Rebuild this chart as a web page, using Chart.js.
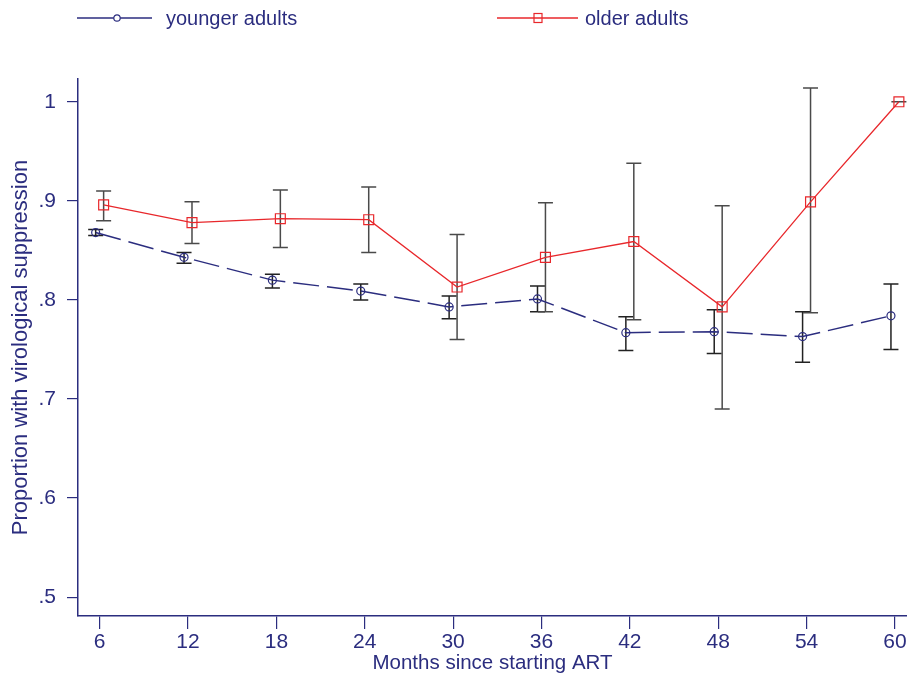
<!DOCTYPE html>
<html><head><meta charset="utf-8">
<script src="https://cdn.jsdelivr.net/npm/chart.js@4.4.1/dist/chart.umd.min.js"></script>
<style>
html,body{margin:0;padding:0;background:#fff;}
#wrap{position:relative;width:907px;height:674px;overflow:hidden;}
canvas{position:absolute;left:0;top:0;}
.leg{position:absolute;top:6px;height:24px;display:flex;align-items:center;font-family:"Liberation Sans",Arial,sans-serif;font-size:20px;color:#2b2d7f;white-space:nowrap;}
.leg svg{margin-right:14px;}
</style></head><body>
<div id="wrap">
<canvas id="c" width="907" height="674"></canvas>
<div class="leg" style="left:77px;"><svg width="75" height="12" viewBox="0 0 75 12"><line x1="0" y1="6" x2="75" y2="6" stroke="#2b2d7f" stroke-width="1.5"/><circle cx="40" cy="6" r="3.2" fill="#fff" stroke="#2b2d7f" stroke-width="1.2"/></svg><span>younger adults</span></div>
<div class="leg" style="left:497px;"><svg width="81" height="14" viewBox="0 0 81 14"><line x1="0" y1="7" x2="81" y2="7" stroke="#e8272b" stroke-width="1.3"/><rect x="37" y="2.5" width="8" height="9" fill="none" stroke="#e8272b" stroke-width="1.2"/></svg><span style="margin-left:-7px">older adults</span></div>
</div>
<script>
const months = [6, 12, 18, 24, 30, 36, 42, 48, 54, 60];
const youngerMean = [0.868, 0.843, 0.820, 0.809, 0.793, 0.801, 0.767, 0.768, 0.763, 0.784];
const youngerLow  = [0.865, 0.837, 0.812, 0.800, 0.781, 0.788, 0.749, 0.746, 0.737, 0.750];
const youngerHigh = [0.871, 0.848, 0.826, 0.816, 0.804, 0.814, 0.783, 0.790, 0.788, 0.816];
const olderMean = [0.896, 0.878, 0.882, 0.881, 0.813, 0.843, 0.859, 0.793, 0.899, 1.000];
const olderLow  = [0.880, 0.857, 0.853, 0.848, 0.760, 0.788, 0.780, 0.690, 0.787, 1.000];
const olderHigh = [0.910, 0.899, 0.911, 0.914, 0.866, 0.898, 0.938, 0.895, 1.014, 1.000];
const yTickValues = [0.5, 0.6, 0.7, 0.8, 0.9, 1];
const yTickLabels = ['.5', '.6', '.7', '.8', '.9', '1'];

const NAVY = '#2b2d7f';
const RED = '#e8272b';
const SHIFT = 0.27;
const FONT = '"Liberation Sans", Arial, sans-serif';

const errorBars = {
  id: 'errorBars',
  beforeDatasetsDraw(chart) {
    const ctx = chart.ctx;
    const xs = chart.scales.x, ys = chart.scales.y;
    chart.data.datasets.forEach(ds => {
      ctx.save();
      ctx.strokeStyle = ds.errColor;
      ctx.lineWidth = 1.5;
      ds.data.forEach((pt, i) => {
        const px = xs.getPixelForValue(pt.x);
        const lo = ys.getPixelForValue(ds.errLow[i]);
        const hi = ys.getPixelForValue(ds.errHigh[i]);
        const w = 7.5;
        ctx.beginPath();
        ctx.moveTo(px, lo); ctx.lineTo(px, hi);
        ctx.moveTo(px - w, lo); ctx.lineTo(px + w, lo);
        ctx.moveTo(px - w, hi); ctx.lineTo(px + w, hi);
        ctx.stroke();
      });
      ctx.restore();
    });
  }
};

new Chart(document.getElementById('c'), {
  type: 'line',
  data: {
    datasets: [
      {
        label: 'younger adults',
        data: months.map((m, i) => ({x: m - SHIFT, y: youngerMean[i]})),
        errLow: youngerLow, errHigh: youngerHigh, errColor: '#222222',
        borderColor: NAVY, borderWidth: 1.5, borderDash: [26, 8],
        pointStyle: 'circle', pointRadius: 4, pointBorderWidth: 1.2,
        pointBorderColor: NAVY, pointBackgroundColor: 'rgba(0,0,0,0)',
        tension: 0, fill: false, clip: false
      },
      {
        label: 'older adults',
        data: months.map((m, i) => ({x: m + SHIFT, y: olderMean[i]})),
        errLow: olderLow, errHigh: olderHigh, errColor: '#4a4a4a',
        borderColor: RED, borderWidth: 1.3,
        pointStyle: 'rect', pointRadius: 7, pointBorderWidth: 1.2,
        pointBorderColor: RED, pointBackgroundColor: 'rgba(0,0,0,0)',
        tension: 0, fill: false, clip: false
      }
    ]
  },
  options: {
    responsive: false,
    animation: false,
    layout: {autoPadding: false, padding: {top: 79, right: 0, left: 0, bottom: 0}},
    plugins: {legend: {display: false}, tooltip: {enabled: false}},
    scales: {
      x: {
        type: 'linear', min: 4.53, max: 60.82,
        afterBuildTicks: s => { s.ticks = months.map(v => ({value: v})); },
        afterFit: s => { s.height = 58; s.paddingLeft = 0; s.paddingRight = 0; },
        ticks: {color: NAVY, font: {family: FONT, size: 21}, maxRotation: 0, autoSkip: false, padding: 1},
        grid: {display: true, drawOnChartArea: false, drawTicks: true, tickLength: 13, color: NAVY, lineWidth: 1.2},
        border: {display: true, color: NAVY, width: 1.5},
        title: {display: true, text: 'Months since starting ART', color: NAVY, font: {family: FONT, size: 20.5, lineHeight: 1}, padding: {top: 0, bottom: 0}}
      },
      y: {
        type: 'linear', min: 0.481, max: 1.023,
        afterBuildTicks: s => { s.ticks = yTickValues.map(v => ({value: v})); },
        afterFit: s => { s.width = 78; s.paddingTop = 0; s.paddingBottom = 0; },
        ticks: {color: NAVY, font: {family: FONT, size: 21}, padding: 11,
          callback: v => yTickLabels[yTickValues.indexOf(v)]},
        grid: {display: true, drawOnChartArea: false, drawTicks: true, tickLength: 11, color: NAVY, lineWidth: 1.2},
        border: {display: true, color: NAVY, width: 1.5},
        title: {display: true, text: 'Proportion with virological suppression', color: NAVY, font: {family: FONT, size: 22, lineHeight: 1}, padding: {top: 10, bottom: 0}}
      }
    }
  },
  plugins: [errorBars]
});
</script>
</body></html>
